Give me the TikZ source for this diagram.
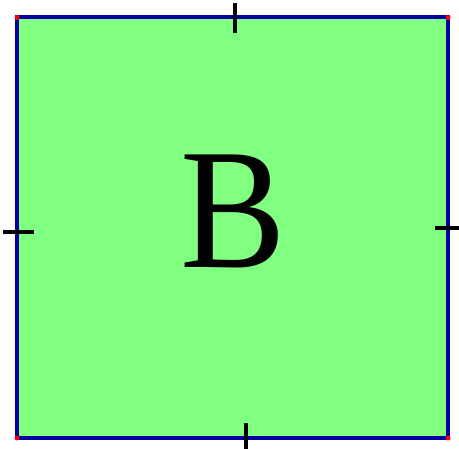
\documentclass[tikz,border=0pt]{standalone}
\usepackage{fontspec}
\setmainfont{Liberation Serif}
\usepackage{tikz}

\definecolor{facegreen}{RGB}{128,255,128}
\definecolor{edgeblue}{RGB}{0,0,165}

\begin{document}
\begin{tikzpicture}[x=1pt,y=-1pt,
   edge/.style={draw=edgeblue,line width=4pt},
   tick/.style={draw=black,line width=4pt},
   vertex/.style={fill=red,circle,inner sep=0pt,minimum size=5pt}]
\useasboundingbox (0,0) rectangle (459,449);
\coordinate (nw) at (17,17.5);
\coordinate (ne) at (448,17.5);
\coordinate (se) at (448,438);
\coordinate (sw) at (17,438);
\fill[facegreen] (nw) rectangle (se);
\draw[edge] (nw) -- (ne) -- (se) -- (sw) -- cycle;
% marks on the sides
\draw[tick] (235,3) -- (235,33);
\draw[tick] (3,232) -- (34,232);
\draw[tick] (435,228) -- (462,228);
\draw[tick] (246,423) -- (246,452);
\foreach \c in {nw,ne,se,sw} {
   \node[vertex] (v-\c) at (\c) {};
}
\node[xscale=0.92] (face) at (233,211) {\fontsize{172}{172}\selectfont B};
\end{tikzpicture}
\end{document}
